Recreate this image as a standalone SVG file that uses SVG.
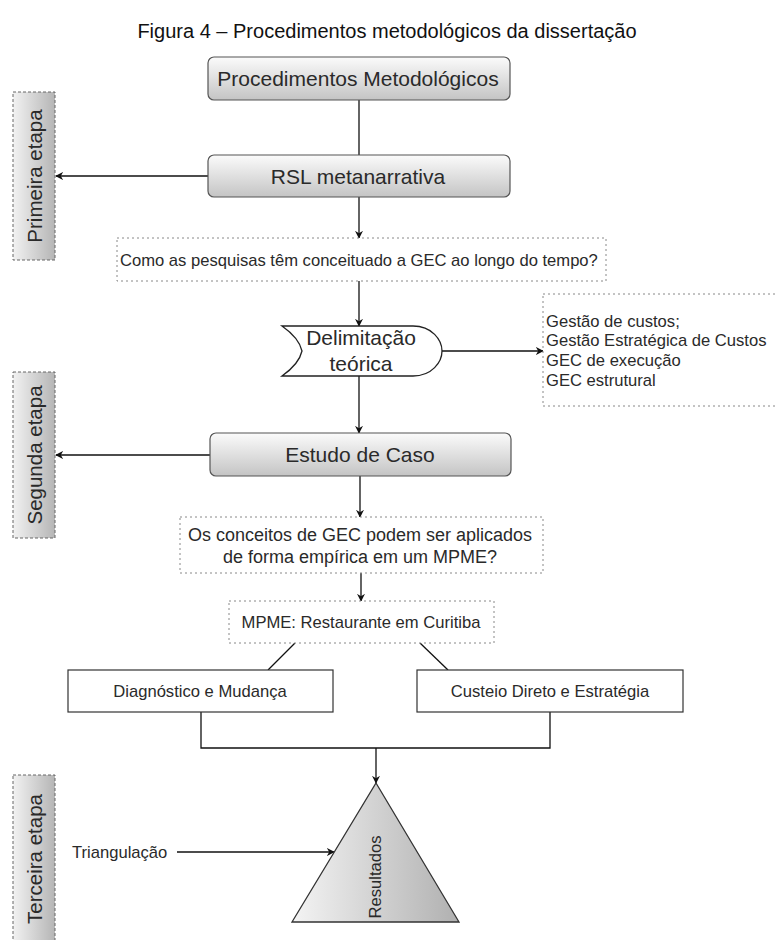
<svg xmlns="http://www.w3.org/2000/svg" width="775" height="940" viewBox="0 0 775 940">
  <style>
    text { font-family: "Liberation Sans", Arial, sans-serif; fill: #2a2a2a; }
    .title { font-size: 20px; fill: #111; }
    .big { font-size: 21px; }
    .stagetxt { font-size: 20.5px; }
    .mid { font-size: 18px; }
    .small { font-size: 16.6px; }
    .btn { fill: url(#btnGrad); stroke: #555; stroke-width: 1.2; }
    .note { fill: #fff; stroke: #888; stroke-width: 1; stroke-dasharray: 2 3; }
    .stage { fill: url(#stageGrad); stroke: #666; stroke-width: 1; stroke-dasharray: 3 2; }
    .plain { fill: #fff; stroke: #333; stroke-width: 1.2; }
    .edge { fill: none; stroke: #111; stroke-width: 1.3; }
    .arrow { fill: none; stroke: #111; stroke-width: 1.3; marker-end: url(#head); }
  </style>
  <defs>
    <linearGradient id="btnGrad" x1="0" y1="0" x2="0" y2="1">
      <stop offset="0" stop-color="#fbfbfb"/>
      <stop offset="1" stop-color="#c4c4c4"/>
    </linearGradient>
    <linearGradient id="stageGrad" x1="0" y1="0" x2="1" y2="0">
      <stop offset="0" stop-color="#f2f2f2"/>
      <stop offset="1" stop-color="#b5b5b5"/>
    </linearGradient>
    <linearGradient id="triGrad" x1="0" y1="0" x2="1" y2="0">
      <stop offset="0" stop-color="#f4f4f4"/>
      <stop offset="1" stop-color="#b0b0b0"/>
    </linearGradient>
    <marker id="head" viewBox="0 0 10 10" refX="9" refY="5" markerWidth="8" markerHeight="8" markerUnits="userSpaceOnUse" orient="auto">
      <path d="M0,0 L10,5 L0,10 L3,5 Z" fill="#111"/>
    </marker>
  </defs>

  <text class="title" x="387" y="38" text-anchor="middle">Figura 4 – Procedimentos metodológicos da dissertação</text>

  <!-- connectors -->
  <g id="connectors">
    <line class="edge" x1="359" y1="100" x2="359" y2="155"/>
    <line class="arrow" x1="208" y1="176" x2="56" y2="176"/>
    <line class="arrow" x1="359" y1="197" x2="359" y2="238"/>
    <line class="arrow" x1="359" y1="281" x2="359" y2="326"/>
    <line class="arrow" x1="442" y1="351" x2="543" y2="351"/>
    <line class="arrow" x1="359" y1="376" x2="359" y2="433"/>
    <line class="arrow" x1="210" y1="455" x2="56" y2="455"/>
    <line class="arrow" x1="360" y1="476" x2="360" y2="517"/>
    <line class="arrow" x1="361" y1="573" x2="361" y2="601"/>
    <line class="edge" x1="295" y1="643" x2="268" y2="670"/>
    <line class="edge" x1="420" y1="643" x2="448" y2="670"/>
    <polyline class="edge" points="201,712 201,748 550,748 550,712"/>
    <line class="arrow" x1="376" y1="748" x2="376" y2="783"/>
    <line class="arrow" x1="177" y1="852" x2="334" y2="852"/>
  </g>

  <!-- stage labels -->
  <g id="stage1">
    <rect class="stage" x="13" y="92" width="42" height="168"/>
    <text class="stagetxt" transform="translate(42,176) rotate(-90)" text-anchor="middle">Primeira etapa</text>
  </g>
  <g id="stage2">
    <rect class="stage" x="13" y="372" width="42" height="166"/>
    <text class="stagetxt" transform="translate(42,455) rotate(-90)" text-anchor="middle">Segunda etapa</text>
  </g>
  <g id="stage3">
    <rect class="stage" x="13" y="775" width="42" height="170"/>
    <text class="stagetxt" transform="translate(42,859) rotate(-90)" text-anchor="middle">Terceira etapa</text>
  </g>

  <g id="procedimentos">
    <rect class="btn" x="208" y="57" width="302" height="43" rx="6"/>
    <text class="big" x="358" y="86" text-anchor="middle">Procedimentos Metodológicos</text>
  </g>

  <g id="rsl">
    <rect class="btn" x="208" y="155" width="302" height="42" rx="6"/>
    <text class="big" x="358" y="184" text-anchor="middle">RSL metanarrativa</text>
  </g>

  <g id="pergunta1">
    <rect class="note" x="117" y="238" width="489" height="43"/>
    <text class="small" x="120" y="266">Como as pesquisas têm conceituado a GEC ao longo do tempo?</text>
  </g>

  <g id="delimitacao">
    <path d="M282,326 L413,326 C432,326 442,340 442,351 C442,362 432,376 413,376 L282,376 C292,369 300,360 302,351 C300,342 292,333 282,326 Z" fill="#fff" stroke="#222" stroke-width="1.3"/>
    <text class="big" x="361" y="345" text-anchor="middle">Delimitação</text>
    <text class="big" x="361" y="371" text-anchor="middle">teórica</text>
  </g>

  <g id="conceitos">
    <rect class="note" x="543" y="294" width="240" height="112"/>
    <text class="small" x="546" y="327">Gestão de custos;</text>
    <text class="small" x="546" y="346">Gestão Estratégica de Custos</text>
    <text class="small" x="546" y="366">GEC de execução</text>
    <text class="small" x="546" y="386">GEC estrutural</text>
  </g>

  <g id="estudo">
    <rect class="btn" x="210" y="433" width="301" height="43" rx="6"/>
    <text class="big" x="360" y="462" text-anchor="middle">Estudo de Caso</text>
  </g>

  <g id="pergunta2">
    <rect class="note" x="180" y="517" width="363" height="56"/>
    <text class="mid" x="360" y="541" text-anchor="middle">Os conceitos de GEC podem ser aplicados</text>
    <text class="mid" x="360" y="563" text-anchor="middle">de forma empírica em um MPME?</text>
  </g>

  <g id="mpme">
    <rect class="note" x="229" y="601" width="265" height="42"/>
    <text class="small" x="361" y="628" text-anchor="middle">MPME: Restaurante em Curitiba</text>
  </g>

  <g id="diagnostico">
    <rect class="plain" x="68" y="670" width="265" height="42"/>
    <text class="small" x="200" y="697" text-anchor="middle">Diagnóstico e Mudança</text>
  </g>

  <g id="custeio">
    <rect class="plain" x="417" y="670" width="266" height="42"/>
    <text class="small" x="550" y="697" text-anchor="middle">Custeio Direto e Estratégia</text>
  </g>

  <g id="resultados">
    <polygon points="376,783 459,922 292,922" fill="url(#triGrad)" stroke="#333" stroke-width="1.3"/>
    <text class="small" transform="translate(381,877) rotate(-90)" text-anchor="middle">Resultados</text>
  </g>

  <g id="triangulacao">
    <text class="small" x="72" y="858">Triangulação</text>
  </g>
</svg>
